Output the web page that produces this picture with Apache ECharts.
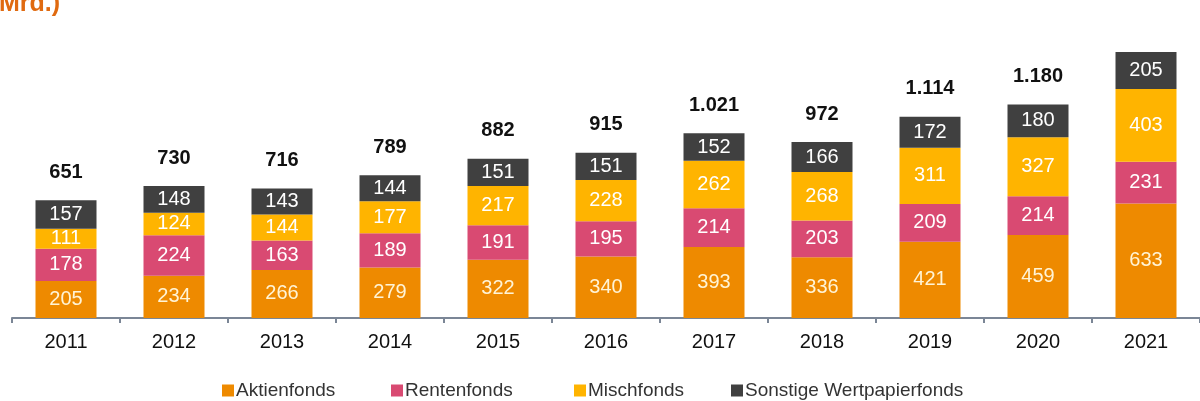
<!DOCTYPE html>
<html>
<head>
<meta charset="utf-8">
<script src="https://cdn.jsdelivr.net/npm/echarts@6/dist/echarts.min.js"></script>
<style>
  html, body { margin: 0; padding: 0; background: #fff; }
  #chart { width: 1200px; height: 401px; }
</style>
</head>
<body>
<div id="chart"></div>
<script>
const years = ['2011', '2012', '2013', '2014', '2015', '2016', '2017', '2018', '2019', '2020', '2021']
const aktienfonds = [205, 234, 266, 279, 322, 340, 393, 336, 421, 459, 633]
const rentenfonds = [178, 224, 163, 189, 191, 195, 214, 203, 209, 214, 231]
const mischfonds = [111, 124, 144, 177, 217, 228, 262, 268, 311, 327, 403]
const sonstige = [157, 148, 143, 144, 151, 151, 152, 166, 172, 180, 205]
const totals = [651, 730, 716, 789, 882, 915, 1021, 972, 1114, 1180, 1471]
const legendNames = ['Aktienfonds', 'Rentenfonds', 'Mischfonds', 'Sonstige Wertpapierfonds']
const legendLeft = [222, 391, 574, 731]

const fmt = v => v.toLocaleString('de-DE')
const font = 'Liberation Sans, Arial, sans-serif'

const chart = echarts.init(document.getElementById('chart'))

const seg = (name, data, color, labelColor) => ({
  name,
  type: 'bar',
  stack: 'total',
  data,
  barWidth: 61,
  itemStyle: { color },
  label: {
    show: true,
    position: 'inside',
    color: labelColor,
    fontSize: 20,
    fontFamily: font
  }
})

const option = {
  animation: false,
  title: {
    text: 'Mrd.)',
    left: -6,
    top: -13,
    textStyle: { color: '#e06a10', fontSize: 25, fontWeight: 'bold', fontFamily: font }
  },
  legend: legendNames.map((name, i) => ({
    data: [name],
    left: legendLeft[i],
    bottom: 1,
    padding: 0,
    itemWidth: 12,
    itemHeight: 12,
    icon: 'rect',
    textStyle: { color: '#333', fontSize: 19, fontFamily: font, padding: [0, 0, 0, -3] }
  })),
  grid: { left: 12, right: 0, top: 52, bottom: 83 },
  xAxis: {
    type: 'category',
    data: years,
    axisLine: { lineStyle: { color: '#7b8696', width: 2 } },
    axisTick: { show: true, length: 5, lineStyle: { color: '#7b8696', width: 2 } },
    axisLabel: { color: '#111', fontSize: 20, margin: 14, fontFamily: font }
  },
  yAxis: {
    type: 'value',
    min: 0,
    max: 1471,
    show: false
  },
  series: [
    seg('Aktienfonds', aktienfonds, '#ee8a00', '#fff4d6'),
    seg('Rentenfonds', rentenfonds, '#d94a72', '#fff'),
    seg('Mischfonds', mischfonds, '#ffb400', '#fff'),
    seg('Sonstige Wertpapierfonds', sonstige, '#404040', '#fff'),
    {
      name: 'Summe',
      type: 'bar',
      stack: 'total',
      data: totals.map(() => 0),
      barWidth: 61,
      itemStyle: { color: 'transparent' },
      label: {
        show: true,
        position: 'top',
        distance: 18,
        color: '#111',
        fontSize: 20,
        fontWeight: 'bold',
        fontFamily: font,
        formatter: p => fmt(totals[p.dataIndex])
      }
    }
  ]
}

chart.setOption(option)
</script>
</body>
</html>
